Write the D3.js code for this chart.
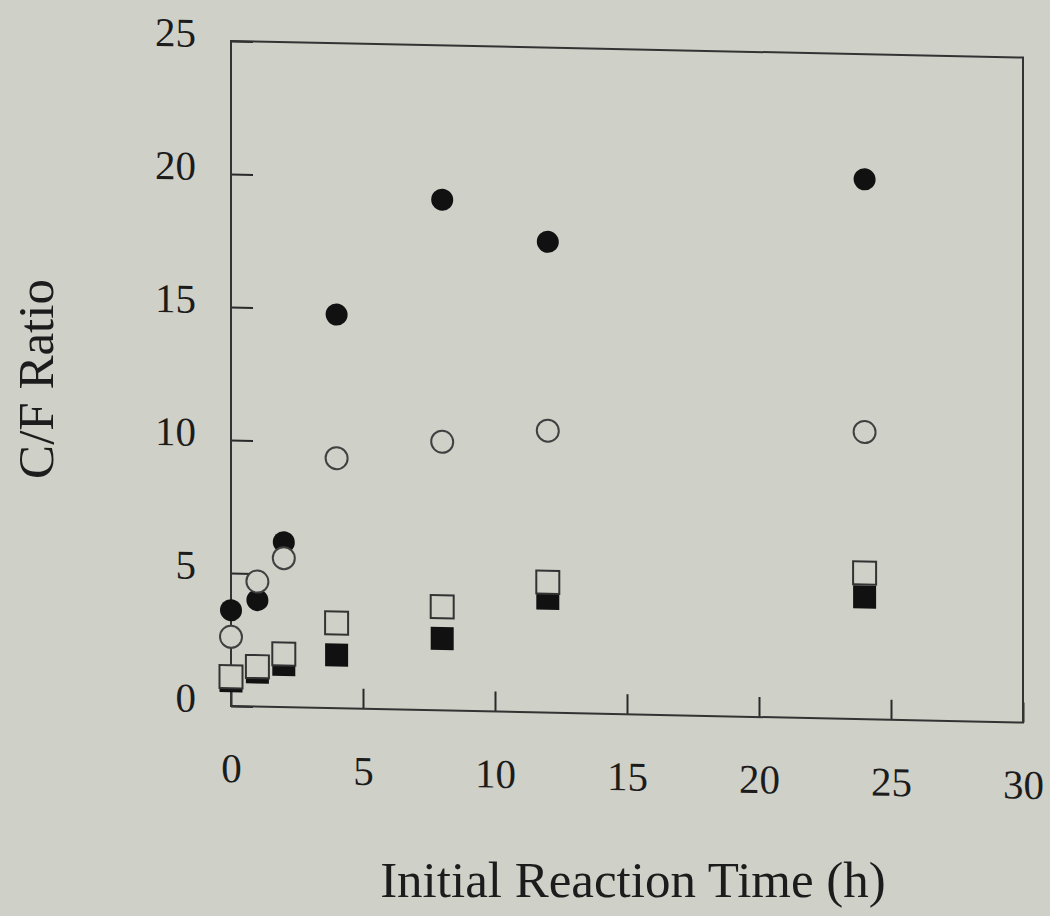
<!DOCTYPE html>
<html>
<head>
<meta charset="utf-8">
<script src="https://cdn.jsdelivr.net/npm/d3@7"></script>
<style>
  html, body { margin: 0; padding: 0; background: #cfd0c8; }
  svg { display: block; }
</style>
</head>
<body>
<script>
// ---- data ----
const times = [0, 1, 2, 4, 8, 12, 24];
const filledCircles = [3.6, 4.0, 6.2, 14.8, 19.2, 17.7, 20.3];
const openCircles   = [2.6, 4.7, 5.6, 9.4, 10.1, 10.6, 10.8];
const filledSquares = [0.95, 1.3, 1.6, 2.0, 2.7, 4.3, 4.6];
const openSquares   = [1.1, 1.5, 2.0, 3.2, 3.9, 4.9, 5.5];
const xTickValues = [0, 5, 10, 15, 20, 25, 30];
const yTickValues = [0, 5, 10, 15, 20, 25];
const xTitle = "Initial Reaction Time (h)";
const yTitle = "C/F Ratio";

// ---- layout ----
const W = 1050, H = 916;
const bg = "#cfd0c8";
const ink = "#1c1c1c";
const font = "'Liberation Serif', 'Times New Roman', serif";

const svg = d3.select("body").append("svg")
  .attr("width", W).attr("height", H);
svg.append("rect").attr("width", W).attr("height", H).attr("fill", bg);

const x = d3.scaleLinear().domain([0, 30]).range([231, 1023]);
const y = d3.scaleLinear().domain([0, 25]).range([706, 41]);

// slight scan shear
const g = svg.append("g")
  .attr("transform", `translate(${x(0)},0) skewY(1.2) translate(${-x(0)},0)`);

// x axis
const xAxis = g.append("g")
  .attr("transform", `translate(0,${y(0)})`)
  .call(d3.axisBottom(x).tickValues(xTickValues).tickSize(-20).tickPadding(47)
        .tickFormat(d3.format("d")));
xAxis.select(".domain").remove();
xAxis.selectAll(".tick line").attr("stroke", "#2a2a2a").attr("stroke-width", 2);
xAxis.selectAll(".tick text")
  .attr("font-family", font).attr("font-size", 41).attr("fill", ink)
  .attr("dy", "0.71em");

// y axis
const yAxis = g.append("g")
  .attr("transform", `translate(${x(0)},0)`)
  .call(d3.axisLeft(y).tickValues(yTickValues).tickSize(-22).tickPadding(35)
        .tickFormat(d3.format("d")));
yAxis.select(".domain").remove();
yAxis.selectAll(".tick line").attr("stroke", "#2a2a2a").attr("stroke-width", 2);
yAxis.selectAll(".tick text")
  .attr("font-family", font).attr("font-size", 41).attr("fill", ink)
  .attr("transform", "translate(0,-7)");

// frame
g.append("rect")
  .attr("x", x(0)).attr("y", y(25))
  .attr("width", x(30) - x(0)).attr("height", y(0) - y(25))
  .attr("fill", "none").attr("stroke", "#333").attr("stroke-width", 2);

// markers
const rC = 11, side = 23;
const data = (vals) => times.map((t, i) => ({ t, v: vals[i] }));

g.append("g").selectAll("circle").data(data(filledCircles)).join("circle")
  .attr("cx", d => x(d.t)).attr("cy", d => y(d.v)).attr("r", rC)
  .attr("fill", "#111");

g.append("g").selectAll("circle").data(data(openCircles)).join("circle")
  .attr("cx", d => x(d.t)).attr("cy", d => y(d.v)).attr("r", rC)
  .attr("fill", bg).attr("stroke", "#404040").attr("stroke-width", 2);

g.append("g").selectAll("rect").data(data(filledSquares)).join("rect")
  .attr("x", d => x(d.t) - side / 2).attr("y", d => y(d.v) - side / 2)
  .attr("width", side).attr("height", side)
  .attr("fill", "#111");

g.append("g").selectAll("rect").data(data(openSquares)).join("rect")
  .attr("x", d => x(d.t) - side / 2).attr("y", d => y(d.v) - side / 2)
  .attr("width", side).attr("height", side)
  .attr("fill", bg).attr("stroke", "#333").attr("stroke-width", 2);

// titles
svg.append("text")
  .attr("x", 633).attr("y", 897)
  .attr("text-anchor", "middle")
  .attr("font-family", font).attr("font-size", 51).attr("fill", ink)
  .text(xTitle);

svg.append("text")
  .attr("transform", "translate(53,379) rotate(-90)")
  .attr("text-anchor", "middle")
  .attr("font-family", font).attr("font-size", 51).attr("fill", ink)
  .text(yTitle);
</script>
</body>
</html>
